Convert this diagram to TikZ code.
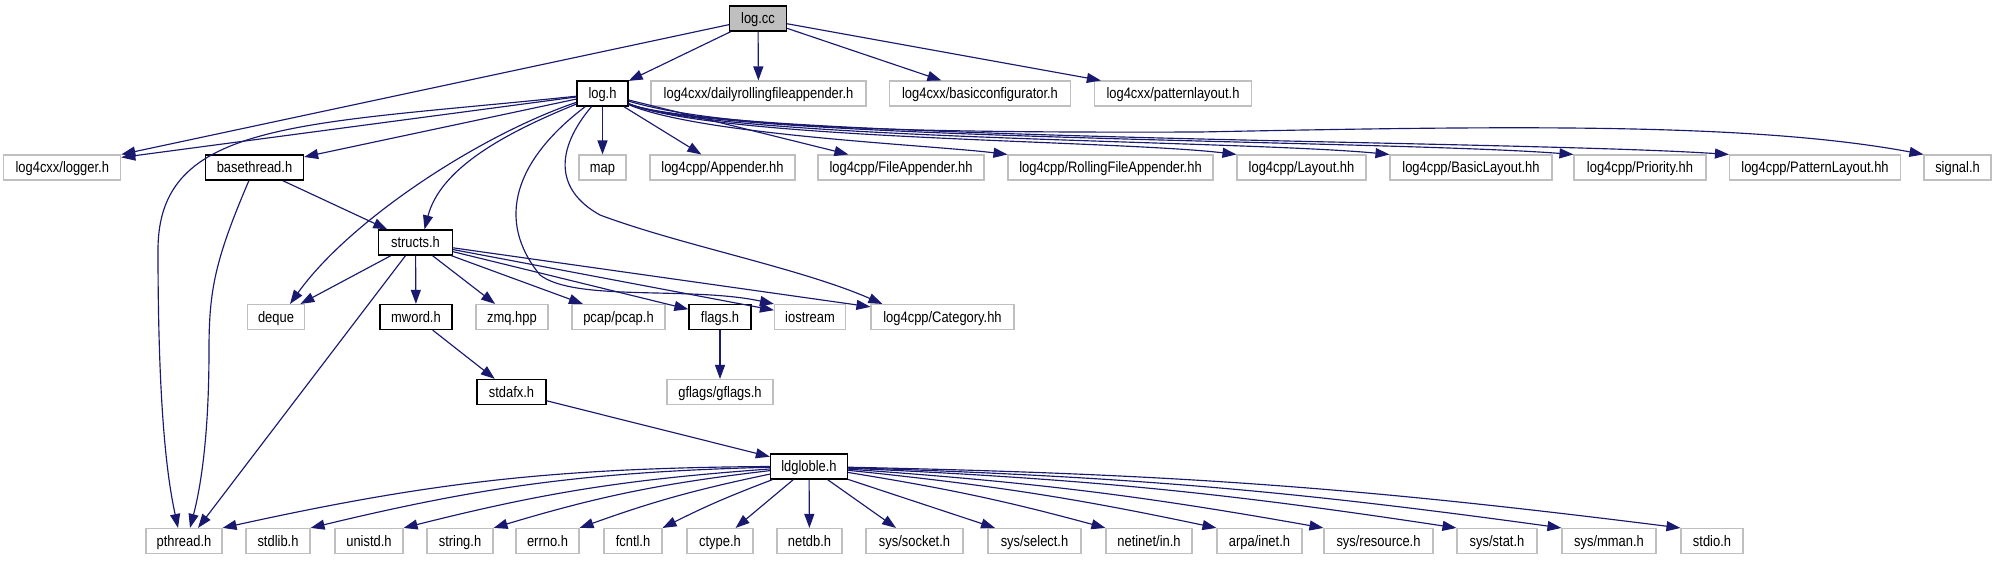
\documentclass[tikz,border=0pt]{standalone}
\usepackage{fontspec}
\setmainfont[FakeStretch=0.85]{Liberation Sans}
\usetikzlibrary{arrows.meta,calc}
\definecolor{edgeblue}{RGB}{25,25,112}
\definecolor{extgray}{RGB}{191,191,191}
\begin{document}
\begin{tikzpicture}[x=1pt,y=-1pt,
  box/.style={rectangle, inner sep=0pt, minimum height=25pt, text height=13pt, text depth=3pt, font=\fontsize{15.2}{18}\selectfont, fill=white},
  docbox/.style={box, draw=black, line width=1.3pt},
  extbox/.style={box, draw=extgray, line width=1.1pt},
  rootbox/.style={box, draw=black, line width=1.3pt, fill=extgray},
  edge/.style={draw=edgeblue, line width=1.15pt, -{Triangle[length=14pt,width=10pt]}}
]
\useasboundingbox[fill=white] (0,0) rectangle (1996,560);

% row 0
\node[rootbox, minimum width=57pt] (logcc) at (758,18.5) {log.cc};
% row 1
\node[docbox, minimum width=51pt] (logh) at (602.5,93.5) {log.h};
\node[extbox, minimum width=215pt] (daily) at (758.5,93.5) {log4cxx/dailyrollingfileappender.h};
\node[extbox, minimum width=181pt] (basic) at (980,93.5) {log4cxx/basicconfigurator.h};
\node[extbox, minimum width=157pt] (patl) at (1173,93.5) {log4cxx/patternlayout.h};
% row 2
\node[extbox, minimum width=117pt] (logger) at (62.3,167.5) {log4cxx/logger.h};
\node[docbox, minimum width=98pt] (baseth) at (254.5,167.5) {basethread.h};
\node[extbox, minimum width=47pt] (map) at (602.5,167.5) {map};
\node[extbox, minimum width=145pt] (app) at (722.5,167.5) {log4cpp/Appender.hh};
\node[extbox, minimum width=166pt] (fapp) at (901,167.5) {log4cpp/FileAppender.hh};
\node[extbox, minimum width=205pt] (rfapp) at (1110.5,167.5) {log4cpp/RollingFileAppender.hh};
\node[extbox, minimum width=129pt] (lay) at (1301.5,167.5) {log4cpp/Layout.hh};
\node[extbox, minimum width=162pt] (blay) at (1471,167.5) {log4cpp/BasicLayout.hh};
\node[extbox, minimum width=132pt] (prio) at (1640,167.5) {log4cpp/Priority.hh};
\node[extbox, minimum width=171pt] (play) at (1815,167.5) {log4cpp/PatternLayout.hh};
\node[extbox, minimum width=67pt] (signal) at (1957.5,167.5) {signal.h};
% row 3
\node[docbox, minimum width=74pt] (structs) at (415.5,242.5) {structs.h};
% row 4
\node[extbox, minimum width=57pt] (deque) at (276,317) {deque};
\node[docbox, minimum width=72pt] (mword) at (416,317) {mword.h};
\node[extbox, minimum width=72pt] (zmq) at (512,317) {zmq.hpp};
\node[extbox, minimum width=93pt] (pcap) at (618.5,317) {pcap/pcap.h};
\node[docbox, minimum width=62pt] (flags) at (720,317) {flags.h};
\node[extbox, minimum width=71pt] (iostr) at (810,317) {iostream};
\node[extbox, minimum width=143pt] (cat) at (942.5,317) {log4cpp/Category.hh};
% row 5
\node[docbox, minimum width=69pt] (stdafx) at (511.5,392) {stdafx.h};
\node[extbox, minimum width=106pt] (gflags) at (720,392) {gflags/gflags.h};
% row 6
\node[docbox, minimum width=77pt] (ldg) at (809,466.5) {ldgloble.h};
% row 7
\node[extbox, minimum width=76pt] (pthr) at (184,541) {pthread.h};
\node[extbox, minimum width=64pt] (stdlib) at (278,541) {stdlib.h};
\node[extbox, minimum width=68pt] (unistd) at (369,541) {unistd.h};
\node[extbox, minimum width=66pt] (string) at (460,541) {string.h};
\node[extbox, minimum width=63pt] (errno) at (547.5,541) {errno.h};
\node[extbox, minimum width=58pt] (fcntl) at (633,541) {fcntl.h};
\node[extbox, minimum width=66pt] (ctype) at (720,541) {ctype.h};
\node[extbox, minimum width=65pt] (netdb) at (809.5,541) {netdb.h};
\node[extbox, minimum width=97pt] (socket) at (914.5,541) {sys/socket.h};
\node[extbox, minimum width=93pt] (select) at (1034.5,541) {sys/select.h};
\node[extbox, minimum width=86pt] (netin) at (1149,541) {netinet/in.h};
\node[extbox, minimum width=85pt] (arpa) at (1259.5,541) {arpa/inet.h};
\node[extbox, minimum width=109pt] (res) at (1378.5,541) {sys/resource.h};
\node[extbox, minimum width=80pt] (stat) at (1497,541) {sys/stat.h};
\node[extbox, minimum width=94pt] (mman) at (1609,541) {sys/mman.h};
\node[extbox, minimum width=62pt] (stdio) at (1712,541) {stdio.h};

% log.cc edges
\draw[edge] (logcc) -- (logger.north east);
\draw[edge] (logcc) -- (logh);
\draw[edge] (logcc) -- (daily);
\draw[edge] (logcc) -- (basic);
\draw[edge] (logcc) -- (patl);

% log.h edges
\draw[edge] (logh) -- ($(logger.north east)+(0,3)$);
\draw[edge] (logh) .. controls (300,125) and (158,120) .. (158,250) .. controls (158,430) and (170,490) .. ($(pthr.north)+(-6,0)$);
\draw[edge] (logh) -- (baseth);
\draw[edge] (logh) .. controls (480,135) and (350,220) .. ($(deque.north)+(14,0)$);
\draw[edge] (logh) .. controls (500,135) and (440,170) .. ($(structs.north)+(9,0)$);
\draw[edge] (logh) .. controls (515,160) and (495,220) .. (540,275) .. controls (575,302) and (690,286) .. (iostr.north west);
\draw[edge] (logh) .. controls (555,150) and (555,190) .. (600,215) .. controls (680,245) and (800,268) .. ($(cat.north west)+(12,0)$);
\draw[edge] (logh) -- (map);
\draw[edge] (logh) -- (app);
\draw[edge] (logh) -- (fapp);
\draw[edge] (logh) .. controls (700,135) and (930,145) .. (rfapp.north west);
\draw[edge] (logh) .. controls (720,140) and (1115,140) .. (lay.north west);
\draw[edge] (logh) .. controls (720,140) and (1238,140) .. (blay.north west);
\draw[edge] (logh) .. controls (720,140) and (1385,140) .. (prio.north west);
\draw[edge] (logh) .. controls (720,140) and (1509,140) .. (play.north west);
\draw[edge] (logh) .. controls (720,128) and (900,133) .. (1200,132) .. controls (1500,126) and (1750,122) .. (signal.north west);

% basethread edges
\draw[edge] (baseth) -- (structs);
\draw[edge] (baseth) .. controls (215,260) and (209,290) .. (209,350) .. controls (209,440) and (200,490) .. ($(pthr.north)+(6,0)$);

% structs edges
\draw[edge] (structs) -- (deque);
\draw[edge] (structs) -- (mword);
\draw[edge] (structs) -- (zmq);
\draw[edge] (structs) -- (pcap);
\draw[edge] (structs) -- (flags);
\draw[edge] (structs) -- (iostr);
\draw[edge] (structs) -- (cat);
\draw[edge] (structs) -- ($(pthr.north)+(14,0)$);

\draw[edge] (mword) -- (stdafx);
\draw[edge] (stdafx) -- (ldg);
\draw[edge] (flags) -- (gflags);

% ldgloble edges
\draw[edge] (ldg) to[bend right=6] (pthr.north east);
\draw[edge] (ldg) to[bend right=6] (stdlib.north east);
\draw[edge] (ldg) to[bend right=5] (unistd.north east);
\draw[edge] (ldg) to[bend right=5] (string.north east);
\draw[edge] (ldg) to[bend right=4] (errno.north east);
\draw[edge] (ldg) to[bend right=3] (fcntl.north east);
\draw[edge] (ldg) -- (ctype);
\draw[edge] (ldg) -- (netdb);
\draw[edge] (ldg) -- (socket);
\draw[edge] (ldg) -- (select);
\draw[edge] (ldg) to[bend left=3] (netin.north west);
\draw[edge] (ldg) to[bend left=3] (arpa.north west);
\draw[edge] (ldg) to[bend left=3] (res.north west);
\draw[edge] (ldg) to[bend left=3] (stat.north west);
\draw[edge] (ldg) to[bend left=3] (mman.north west);
\draw[edge] (ldg) to[bend left=3] (stdio.north west);
\end{tikzpicture}
\end{document}
